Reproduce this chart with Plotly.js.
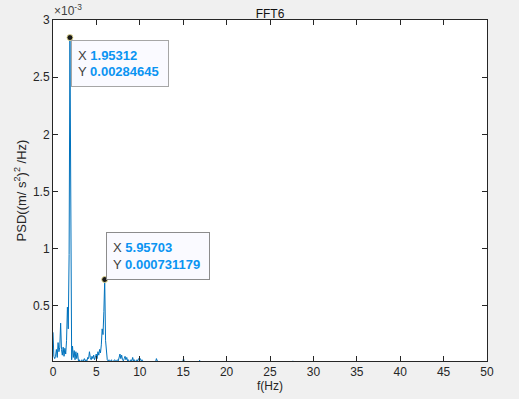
<!DOCTYPE html>
<html>
<head>
<meta charset="utf-8">
<script src="https://cdn.plot.ly/plotly-3.0.1.min.js"></script>
<style>
  html, body { margin: 0; padding: 0; background: #f0f0f0; }
  #chart { width: 519px; height: 399px; }
</style>
</head>
<body>
<div id="chart"></div>
<script>
// Frequency (Hz)
const freq = [
  0, 0.0977, 0.1953, 0.2930, 0.3906, 0.4883, 0.5859, 0.6836, 0.7813, 0.8789,
  0.9766, 1.0742, 1.1719, 1.2695, 1.3672, 1.4648, 1.5625, 1.6602, 1.7578, 1.8555,
  1.95312, 2.0508, 2.1484, 2.2461, 2.3438, 2.4414, 2.5391, 2.6367, 2.7344, 2.8320,
  2.9297, 3.0273, 3.1250, 3.2227, 3.3203, 3.4180, 3.5156, 3.6133, 3.7109, 3.8086,
  3.9063, 4.0039, 4.1016, 4.1992, 4.2969, 4.3945, 4.4922, 4.5898, 4.6875, 4.7852,
  4.8828, 4.9805, 5.0781, 5.1758, 5.2734, 5.3711, 5.4688, 5.5664, 5.6641, 5.7617,
  5.8594, 5.95703, 6.0547, 6.1523, 6.2500, 6.3477, 6.4453, 6.5430, 6.6406, 6.7383,
  6.8359, 6.9336, 7.0313, 7.1289, 7.2266, 7.3242, 7.4219, 7.5195, 7.6172, 7.7148,
  7.8125, 7.9102, 8.0078, 8.1055, 8.2031, 8.3008, 8.3984, 8.4961, 8.5938, 8.6914,
  8.7891, 8.8867, 8.9844, 9.0820, 9.1797, 9.2773, 9.3750, 9.4727, 9.5703, 9.6680,
  9.7656, 9.8633, 9.9609, 10.0586, 10.1563, 10.2539, 10.3516, 10.4492,
  10.7, 11.0, 11.5, 11.8164, 11.9141, 12.0117, 12.3, 13.0, 14.0, 14.9414,
  15.0391, 15.1367, 15.5, 16.5, 16.7969, 16.8945, 16.9922, 20.0, 25.0, 27.5391,
  27.6367, 27.7344, 30.0, 35.0, 40.0, 45.0, 50.0
];
// PSD ((m/s^2)^2/Hz)
const psd = [
  0.00027, 0.00006, 0.00004, 0.00006, 0.00012, 0.00005, 0.00018, 0.00010, 0.00014, 0.00035,
  0.00012, 0.00007, 0.00014, 0.00006, 0.00013, 0.00008, 0.00020, 0.00049, 0.00030, 0.00095,
  0.00284645, 0.00040, 0.00003, 0.00015, 0.00005, 0.00011, 0.00003, 0.00010, 0.00004, 0.00009,
  0.00002, 0.00003, 0.00001, 0.00002, 0.00003, 0.00001, 0.00002, 0.00004, 0.00002, 0.00003,
  0.00002, 0.00005, 0.00004, 0.00010, 0.00005, 0.00003, 0.00006, 0.00004, 0.00007, 0.00003,
  0.00005, 0.00008, 0.00004, 0.00010, 0.00007, 0.00012, 0.00009, 0.00016, 0.00030, 0.00025,
  0.00045, 0.000731179, 0.00020, 0.00008, 0.00003, 0.00002, 0.00003, 0.00001, 0.00002, 0.00003,
  0.00001, 0.00002, 0.00002, 0.00003, 0.00001, 0.00002, 0.00003, 0.00002, 0.00005, 0.00008,
  0.00004, 0.00007, 0.00003, 0.00002, 0.00004, 0.00006, 0.00003, 0.00005, 0.00002, 0.00003,
  0.00001, 0.00002, 0.00003, 0.00002, 0.00005, 0.00002, 0.00003, 0.00001, 0.00002, 0.00003,
  0.00002, 0.00004, 0.00003, 0.00004, 0.00002, 0.00003, 0.00002, 0.00001,
  0.000005, 0.00001, 0.000005, 0.00001, 0.00004, 0.00002, 0.000005, 0.000008, 0.000005, 0.00001,
  0.00004, 0.00001, 0.000005, 0.000005, 0.00001, 0.000025, 0.000005, 0.000003, 0.000002, 0.000003,
  0.00002, 0.000003, 0.000002, 0.000002, 0.000002, 0.000002, 0.000002
];
// Data tips (indices into the series)
const tipIdx = [20, 61];
const tipXLabels = ["1.95312", "5.95703"];
const tipYLabels = ["0.00284645", "0.000731179"];

const xTicks = [0, 5, 10, 15, 20, 25, 30, 35, 40, 45, 50];
const yTickVals = [0.0005, 0.001, 0.0015, 0.002, 0.0025, 0.003];
const yTickText = ["0.5", "1", "1.5", "2", "2.5", "3"];

const axisColor = "#262626";
const lineColor = "#0072BD";
const valColor = "#0a94f2";

const traces = [
  {
    x: freq, y: psd, type: "scatter", mode: "lines",
    line: { color: lineColor, width: 1 },
    hoverinfo: "skip"
  },
  {
    x: tipIdx.map(i => freq[i]), y: tipIdx.map(i => psd[i]),
    type: "scatter", mode: "markers",
    marker: { color: "#1a1a1a", size: 6, line: { color: "rgba(235,225,150,0.9)", width: 1 } },
    hoverinfo: "skip", cliponaxis: false
  }
];

function tipText(k) {
  return "X <b><span style='color:" + valColor + "'>" + tipXLabels[k] + "</span></b><br>" +
         "Y <b><span style='color:" + valColor + "'>" + tipYLabels[k] + "</span></b>";
}

const annotations = [
  {
    x: freq[tipIdx[0]], y: psd[tipIdx[0]], xref: "x", yref: "y",
    text: tipText(0), showarrow: false, xanchor: "left", yanchor: "top",
    xshift: 1, yshift: -2, align: "left",
    font: { family: "Liberation Sans, Arial, sans-serif", size: 13, color: "#404040" },
    bgcolor: "rgba(250,250,255,0.96)", bordercolor: "#a6a6a6", borderwidth: 1, borderpad: 6,
    width: 84, height: 33
  },
  {
    x: freq[tipIdx[1]], y: psd[tipIdx[1]], xref: "x", yref: "y",
    text: tipText(1), showarrow: false, xanchor: "left", yanchor: "bottom",
    xshift: 1, yshift: 0, align: "left",
    font: { family: "Liberation Sans, Arial, sans-serif", size: 13, color: "#404040" },
    bgcolor: "rgba(250,250,255,0.96)", bordercolor: "#8c8c8c", borderwidth: 1, borderpad: 6,
    width: 90, height: 34
  },
  {
    x: 0, y: 1, xref: "paper", yref: "paper", xanchor: "left", yanchor: "bottom",
    xshift: -1, yshift: 0,
    text: "\u00d710<sup>-3</sup>", showarrow: false,
    font: { family: "Liberation Sans, Arial, sans-serif", size: 12, color: "#404040" }
  }
];

const layout = {
  width: 519, height: 399,
  margin: { l: 53, r: 32, t: 20, b: 38, pad: 0 },
  paper_bgcolor: "#f0f0f0", plot_bgcolor: "#ffffff",
  showlegend: false,
  font: { family: "Liberation Sans, Arial, sans-serif", size: 12, color: axisColor },
  title: {
    text: "FFT6", x: 0.5, xref: "paper", xanchor: "center",
    y: 1, yref: "paper", yanchor: "bottom", pad: { b: 2 },
    font: { size: 12, color: "#111111" }
  },
  xaxis: {
    range: [0, 50], tickvals: xTicks, ticktext: xTicks.map(String),
    ticks: "inside", ticklen: 5, tickcolor: axisColor, tickwidth: 1,
    showline: true, linecolor: axisColor, linewidth: 1, mirror: "ticks",
    showgrid: false, zeroline: false,
    tickfont: { size: 12, color: axisColor },
    title: { text: "f(Hz)", standoff: 2, font: { size: 12, color: axisColor } }
  },
  yaxis: {
    range: [0.000019, 0.003], tickvals: yTickVals, ticktext: yTickText,
    ticks: "inside", ticklen: 5, tickcolor: axisColor, tickwidth: 1,
    showline: true, linecolor: axisColor, linewidth: 1, mirror: "ticks",
    showgrid: false, zeroline: false,
    tickfont: { size: 12, color: axisColor },
    title: { text: "PSD((m/ s<sup>2</sup>)<sup>2</sup> /Hz)", standoff: 3, font: { size: 13, color: axisColor } }
  },
  annotations: annotations
};

Plotly.newPlot("chart", traces, layout, { displayModeBar: false, staticPlot: true });
</script>
</body>
</html>
